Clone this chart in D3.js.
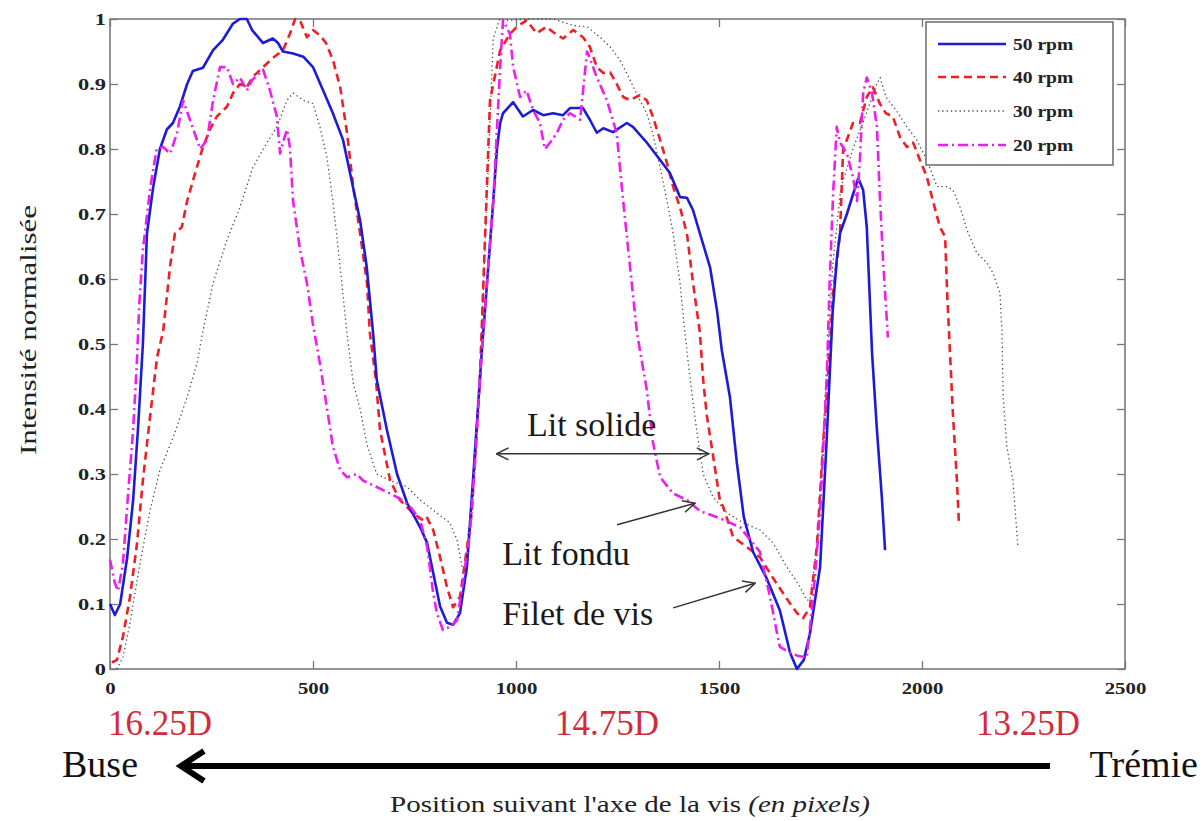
<!DOCTYPE html>
<html><head><meta charset="utf-8">
<script src="https://cdn.jsdelivr.net/npm/d3@7"></script>
<style>body{margin:0;background:#fff}svg{display:block}</style>
</head><body>
<svg id="c" width="1204" height="821"></svg>
<script>
// ---- data ----
const seriesNames = ["50 rpm","40 rpm","30 rpm","20 rpm"];
const xTicks = [0,500,1000,1500,2000,2500];
const xTickLabels = ["0","500","1000","1500","2000","2500"];
const yTicks = [0,0.1,0.2,0.3,0.4,0.5,0.6,0.7,0.8,0.9,1];
const yTickLabels = ["0","0.1","0.2","0.3","0.4","0.5","0.6","0.7","0.8","0.9","1"];
const positionLabels = ["16.25D","14.75D","13.25D"];

const rpm50 = [[0,0.10],[12,0.083],[25,0.10],[42,0.17],[57,0.26],[69,0.37],[81,0.50],[91,0.67],[106,0.74],[123,0.80],[140,0.83],[155,0.84],[172,0.865],[190,0.90],[204,0.92],[229,0.925],[254,0.952],[278,0.968],[303,0.993],[320,1.0],[337,1.0],[350,0.983],[377,0.963],[401,0.97],[414,0.963],[426,0.95],[451,0.947],[476,0.942],[500,0.926],[525,0.89],[549,0.855],[574,0.814],[599,0.74],[616,0.69],[632,0.62],[648,0.517],[657,0.445],[682,0.368],[707,0.30],[732,0.255],[764,0.218],[781,0.194],[796,0.148],[813,0.096],[830,0.071],[845,0.068],[862,0.086],[879,0.157],[894,0.29],[911,0.445],[916,0.49],[944,0.72],[953,0.80],[961,0.84],[968,0.855],[993,0.872],[1017,0.85],[1042,0.86],[1067,0.852],[1091,0.855],[1116,0.852],[1133,0.863],[1165,0.863],[1182,0.845],[1199,0.825],[1215,0.832],[1239,0.826],[1273,0.84],[1288,0.834],[1322,0.81],[1355,0.783],[1379,0.763],[1404,0.726],[1421,0.725],[1436,0.706],[1453,0.67],[1478,0.618],[1495,0.552],[1507,0.49],[1527,0.418],[1544,0.317],[1561,0.234],[1584,0.18],[1617,0.14],[1650,0.09],[1675,0.025],[1692,0.0],[1709,0.014],[1724,0.055],[1749,0.157],[1765,0.35],[1780,0.55],[1790,0.63],[1798,0.67],[1815,0.70],[1830,0.73],[1843,0.755],[1855,0.737],[1864,0.68],[1877,0.486],[1889,0.368],[1901,0.265],[1909,0.183]];

const rpm40 = [[5,0.01],[17,0.014],[32,0.05],[49,0.11],[66,0.19],[81,0.29],[99,0.39],[116,0.48],[131,0.52],[148,0.62],[160,0.67],[177,0.68],[190,0.72],[214,0.772],[229,0.803],[246,0.83],[263,0.85],[288,0.865],[303,0.886],[320,0.90],[337,0.895],[350,0.91],[377,0.926],[401,0.94],[426,0.952],[443,0.977],[456,1.0],[468,0.998],[485,0.972],[500,0.983],[517,0.975],[532,0.963],[549,0.937],[567,0.895],[584,0.824],[599,0.742],[616,0.67],[633,0.594],[640,0.517],[655,0.445],[665,0.368],[690,0.29],[714,0.26],[746,0.24],[771,0.229],[780,0.234],[796,0.214],[813,0.172],[830,0.126],[845,0.095],[862,0.111],[874,0.163],[891,0.24],[911,0.445],[936,0.875],[961,0.952],[985,0.977],[1002,0.988],[1026,0.998],[1051,0.978],[1075,0.988],[1091,0.98],[1116,0.97],[1141,0.983],[1165,0.972],[1182,0.957],[1199,0.926],[1215,0.917],[1232,0.918],[1248,0.90],[1264,0.88],[1281,0.875],[1305,0.883],[1322,0.875],[1337,0.85],[1355,0.814],[1372,0.778],[1387,0.742],[1404,0.71],[1421,0.67],[1436,0.594],[1453,0.517],[1461,0.445],[1470,0.39],[1485,0.33],[1502,0.26],[1510,0.25],[1535,0.203],[1568,0.188],[1601,0.172],[1633,0.14],[1667,0.108],[1692,0.086],[1707,0.078],[1724,0.095],[1741,0.188],[1756,0.342],[1768,0.445],[1781,0.578],[1798,0.67],[1806,0.803],[1815,0.814],[1830,0.84],[1847,0.84],[1864,0.88],[1879,0.895],[1896,0.87],[1911,0.855],[1928,0.85],[1946,0.818],[1963,0.803],[1978,0.81],[1995,0.783],[2012,0.757],[2027,0.72],[2044,0.68],[2057,0.665],[2062,0.578],[2069,0.486],[2076,0.394],[2086,0.29],[2091,0.224]];

const rpm30 = [[17,0.0],[32,0.018],[49,0.07],[74,0.163],[99,0.245],[123,0.306],[156,0.357],[190,0.418],[214,0.47],[229,0.52],[254,0.594],[288,0.66],[320,0.71],[352,0.772],[387,0.81],[411,0.834],[436,0.875],[451,0.886],[476,0.875],[500,0.87],[517,0.834],[534,0.788],[549,0.72],[567,0.618],[583,0.52],[599,0.44],[616,0.40],[633,0.345],[657,0.30],[690,0.29],[732,0.28],[764,0.26],[805,0.24],[837,0.225],[855,0.198],[867,0.157],[879,0.148],[891,0.24],[911,0.445],[930,0.75],[944,0.97],[960,1.0],[978,0.998],[1043,1.0],[1091,1.0],[1141,0.99],[1175,0.988],[1207,0.972],[1232,0.957],[1256,0.937],[1281,0.906],[1305,0.875],[1322,0.855],[1337,0.824],[1355,0.772],[1372,0.72],[1387,0.67],[1404,0.594],[1416,0.517],[1429,0.445],[1445,0.368],[1461,0.30],[1485,0.265],[1520,0.24],[1559,0.225],[1601,0.214],[1633,0.194],[1667,0.157],[1700,0.126],[1716,0.106],[1724,0.106],[1741,0.188],[1760,0.40],[1780,0.62],[1800,0.74],[1830,0.80],[1860,0.85],[1889,0.90],[1897,0.91],[1911,0.88],[1936,0.86],[1963,0.834],[1987,0.814],[2012,0.783],[2037,0.742],[2062,0.742],[2076,0.737],[2094,0.71],[2111,0.675],[2135,0.64],[2160,0.625],[2175,0.609],[2192,0.578],[2197,0.52],[2200,0.418],[2209,0.342],[2224,0.29],[2236,0.19]];

const rpm20 = [[0,0.168],[12,0.132],[20,0.12],[32,0.163],[44,0.265],[57,0.368],[66,0.47],[72,0.56],[81,0.645],[99,0.74],[115,0.80],[131,0.803],[148,0.793],[165,0.824],[180,0.875],[197,0.845],[222,0.80],[239,0.814],[254,0.875],[271,0.926],[288,0.926],[303,0.90],[320,0.91],[337,0.89],[350,0.906],[377,0.922],[394,0.89],[411,0.85],[419,0.793],[426,0.81],[436,0.83],[443,0.803],[451,0.72],[468,0.645],[485,0.594],[500,0.53],[517,0.47],[534,0.403],[549,0.342],[567,0.306],[584,0.295],[608,0.30],[623,0.29],[657,0.28],[690,0.27],[714,0.262],[739,0.25],[764,0.229],[781,0.188],[796,0.117],[805,0.086],[820,0.06],[837,0.065],[855,0.075],[870,0.137],[887,0.214],[899,0.317],[911,0.445],[919,0.517],[944,0.72],[961,0.926],[968,0.998],[985,0.977],[993,0.926],[1010,0.88],[1026,0.89],[1042,0.86],[1059,0.84],[1071,0.80],[1084,0.81],[1100,0.824],[1116,0.845],[1133,0.855],[1158,0.845],[1175,0.95],[1182,0.94],[1199,0.91],[1224,0.875],[1248,0.824],[1264,0.72],[1281,0.618],[1298,0.517],[1322,0.43],[1337,0.35],[1355,0.295],[1387,0.27],[1421,0.26],[1453,0.243],[1502,0.232],[1552,0.218],[1601,0.18],[1626,0.11],[1643,0.055],[1650,0.034],[1675,0.025],[1695,0.02],[1716,0.018],[1732,0.11],[1749,0.24],[1766,0.46],[1773,0.603],[1781,0.73],[1790,0.834],[1798,0.81],[1815,0.793],[1830,0.757],[1840,0.72],[1847,0.783],[1855,0.886],[1864,0.91],[1877,0.886],[1889,0.834],[1896,0.73],[1904,0.63],[1916,0.51]];

// ---- styles ----
const styles = [
  {color:"#1c1cd8", width:2.6, dash:null},
  {color:"#ee1f26", width:2.6, dash:"8,5"},
  {color:"#4a4a4a", width:1.3, dash:"1.3,3"},
  {color:"#ee1eee", width:2.6, dash:"10,4,2,4"}
];
const allSeries = [rpm50, rpm40, rpm30, rpm20];

const svg = d3.select("#c");
const L=110, R=1125, T=19, B=669;
const x = d3.scaleLinear().domain([0,2500]).range([L,R]);
const y = d3.scaleLinear().domain([0,1]).range([B,T]);
const SERIF = "'Liberation Serif','Times New Roman',serif";

// axes (inward ticks)
const gx = svg.append("g").attr("transform",`translate(0,${B})`)
  .call(d3.axisBottom(x).tickValues(xTicks).tickSize(-8).tickPadding(14)
        .tickFormat((d,i)=>xTickLabels[i]));
const gxt = svg.append("g").attr("transform",`translate(0,${T})`)
  .call(d3.axisTop(x).tickValues(xTicks).tickSize(-8).tickFormat(""));
const gy = svg.append("g").attr("transform",`translate(${L},0)`)
  .call(d3.axisLeft(y).tickValues(yTicks).tickSize(-8).tickPadding(4)
        .tickFormat((d,i)=>yTickLabels[i]));
const gyr = svg.append("g").attr("transform",`translate(${R},0)`)
  .call(d3.axisRight(y).tickValues(yTicks).tickSize(-8).tickFormat(""));
[gx,gxt,gy,gyr].forEach(g=>{
  g.select(".domain").remove();
  g.selectAll(".tick line").attr("stroke","#777").attr("stroke-width",1.3);
  g.selectAll("text").attr("font-family",SERIF).attr("font-weight","bold")
    .attr("font-size",16).attr("fill","#222");
});
// horizontal stretch of tick labels like the reference
gy.selectAll(".tick text").each(function(){
  const t=d3.select(this); const xx=+t.attr("x");
  t.attr("x", xx/1.4).attr("transform","scale(1.4,1)").attr("dy","0.35em");
});
gx.selectAll(".tick text").each(function(){
  d3.select(this).attr("transform","scale(1.3,1)");
});

// frame
svg.append("rect").attr("x",L).attr("y",T).attr("width",R-L).attr("height",B-T)
  .attr("fill","none").attr("stroke","#7a7a7a").attr("stroke-width",1.6);

// lines
const line = d3.line().x(d=>x(d[0])).y(d=>y(d[1]));
const plot = svg.append("g");
// draw order: 30 (bottom), 40, 50, 20
[2,1,0,3].forEach(i=>{
  plot.append("path").datum(allSeries[i]).attr("d",line)
    .attr("fill","none").attr("stroke",styles[i].color)
    .attr("stroke-width",styles[i].width)
    .attr("stroke-dasharray",styles[i].dash)
    .attr("stroke-linejoin","round");
});

// legend
const lg = svg.append("g");
lg.append("rect").attr("x",926).attr("y",22).attr("width",187).attr("height",143)
  .attr("fill","#fff").attr("stroke","#6a6a6a").attr("stroke-width",1.5);
const legY = [44,77,111,145];
seriesNames.forEach((n,i)=>{
  lg.append("line").attr("x1",938).attr("x2",1006).attr("y1",legY[i]).attr("y2",legY[i])
    .attr("stroke",styles[i].color).attr("stroke-width",styles[i].width)
    .attr("stroke-dasharray",styles[i].dash);
  lg.append("text").attr("x",1013/1.15).attr("y",legY[i]+6)
    .attr("transform","scale(1.15,1)")
    .attr("font-family",SERIF).attr("font-weight","bold").attr("font-size",17)
    .attr("fill","#222").text(n);
});

// annotations (positioned in data coordinates)
const defs = svg.append("defs");
function chevron(id){
  defs.append("marker").attr("id",id).attr("viewBox","0 0 14 14").attr("refX",13).attr("refY",7)
    .attr("markerWidth",14).attr("markerHeight",14).attr("markerUnits","userSpaceOnUse")
    .attr("orient","auto-start-reverse")
    .append("path").attr("d","M1,1 L13,7 L1,13").attr("fill","none").attr("stroke","#333").attr("stroke-width",1.5);
}
chevron("chev");
const ann = svg.append("g").attr("font-family",SERIF).attr("font-size",34).attr("fill","#1a1a1a");
ann.append("line").attr("x1",x(952)).attr("y1",y(0.331)).attr("x2",x(1475)).attr("y2",y(0.331))
  .attr("stroke","#333").attr("stroke-width",1.5)
  .attr("marker-start","url(#chev)").attr("marker-end","url(#chev)");
ann.append("text").attr("x",x(1027)).attr("y",y(0.358)).text("Lit solide");
ann.append("line").attr("x1",x(1249)).attr("y1",y(0.222)).attr("x2",x(1441)).attr("y2",y(0.255))
  .attr("stroke","#333").attr("stroke-width",1.5).attr("marker-end","url(#chev)");
ann.append("text").attr("x",x(966)).attr("y",y(0.16)).text("Lit fondu");
ann.append("line").attr("x1",x(1387)).attr("y1",y(0.094)).attr("x2",x(1589)).attr("y2",y(0.132))
  .attr("stroke","#333").attr("stroke-width",1.5).attr("marker-end","url(#chev)");
ann.append("text").attr("x",x(966)).attr("y",y(0.068)).text("Filet de vis");

// position labels under axis
const posX = [160,607,1028];
positionLabels.forEach((t,i)=>{
  svg.append("text").attr("x",posX[i]).attr("y",735).attr("text-anchor","middle")
    .attr("font-family",SERIF).attr("font-size",35).attr("fill","#d42a3a").text(t);
});

// Buse / Trémie with thick arrow
svg.append("text").attr("x",62).attr("y",777).attr("font-family",SERIF).attr("font-size",38)
  .attr("fill","#111").text("Buse");
svg.append("text").attr("x",1198).attr("y",777).attr("text-anchor","end").attr("font-family",SERIF)
  .attr("font-size",38).attr("fill","#111").text("Trémie");
svg.append("line").attr("x1",184).attr("x2",1050).attr("y1",766).attr("y2",766)
  .attr("stroke","#000").attr("stroke-width",6);
svg.append("path").attr("d","M204,751 L181,766 L204,781").attr("fill","none")
  .attr("stroke","#000").attr("stroke-width",6).attr("stroke-linejoin","miter");

// axis titles
const xt = svg.append("text").attr("x",630).attr("y",812).attr("text-anchor","middle")
  .attr("font-family",SERIF).attr("font-size",23).attr("fill","#222")
  .attr("textLength",480).attr("lengthAdjust","spacingAndGlyphs");
xt.append("tspan").text("Position suivant l'axe de la vis ");
xt.append("tspan").attr("font-style","italic").text("(en pixels)");
svg.append("text").attr("transform","translate(36,330) rotate(-90)").attr("text-anchor","middle")
  .attr("font-family",SERIF).attr("font-size",24).attr("fill","#222")
  .attr("textLength",250).attr("lengthAdjust","spacingAndGlyphs")
  .text("Intensité normalisée");
</script>
</body></html>
